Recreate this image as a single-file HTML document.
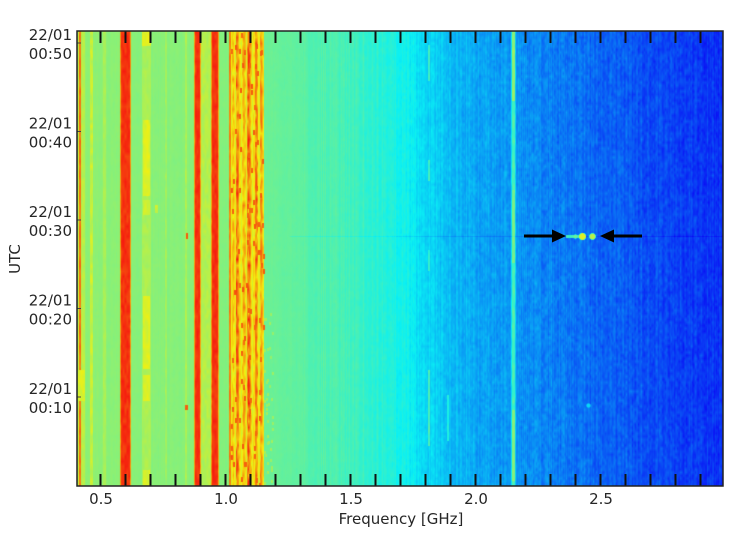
<!DOCTYPE html>
<html><head><meta charset="utf-8">
<style>
html,body{margin:0;padding:0;background:#fff;width:733px;height:550px;overflow:hidden}
#c{position:absolute;left:77px;top:31px;width:646px;height:455px}
svg{position:absolute;left:0;top:0}
text{font-family:"DejaVu Sans","Liberation Sans",sans-serif;font-size:15px;fill:#262626}
</style></head>
<body>
<canvas id="c" width="646" height="455"></canvas>
<svg width="733" height="550" xmlns="http://www.w3.org/2000/svg">
<g id="ticks" stroke="#111" stroke-width="2"></g>
<g stroke="#444" stroke-width="1">
<line x1="77" y1="43" x2="81" y2="43"/>
<line x1="77" y1="131.5" x2="81" y2="131.5"/>
<line x1="77" y1="220" x2="81" y2="220"/>
<line x1="77" y1="308.5" x2="81" y2="308.5"/>
<line x1="77" y1="397" x2="81" y2="397"/>
</g>
<rect x="77" y="31" width="646" height="455" fill="none" stroke="#222" stroke-width="1.5"/>
<line x1="524" y1="236" x2="555" y2="236" stroke="#000" stroke-width="3"/>
<polygon points="552,229.5 566,236 552,242.5" fill="#000"/>
<line x1="611" y1="236" x2="642" y2="236" stroke="#000" stroke-width="3"/>
<polygon points="614,229.5 600,236 614,242.5" fill="#000"/>
<g text-anchor="middle">
<text x="101" y="504">0.5</text>
<text x="226" y="504">1.0</text>
<text x="351" y="504">1.5</text>
<text x="476" y="504">2.0</text>
<text x="601" y="504">2.5</text>
<text x="401" y="524">Frequency [GHz]</text>
</g>
<g text-anchor="end">
<text x="72" y="40">22/01</text><text x="72" y="59">00:50</text>
<text x="72" y="128.5">22/01</text><text x="72" y="147.5">00:40</text>
<text x="72" y="217">22/01</text><text x="72" y="236">00:30</text>
<text x="72" y="305.5">22/01</text><text x="72" y="324.5">00:20</text>
<text x="72" y="394">22/01</text><text x="72" y="413">00:10</text>
</g>
<text x="20" y="259" text-anchor="middle" transform="rotate(-90 20 259)">UTC</text>
</svg>
<script>
(function(){
var tg=document.getElementById('ticks');var ns="http://www.w3.org/2000/svg";
for(var k=0;k<=24;k++){var x=100.5+25*k;
 var l=document.createElementNS(ns,'line');l.setAttribute('x1',x);l.setAttribute('x2',x);l.setAttribute('y1',486);l.setAttribute('y2',474);tg.appendChild(l);
 var m=document.createElementNS(ns,'line');m.setAttribute('x1',x);m.setAttribute('x2',x);m.setAttribute('y1',31);m.setAttribute('y2',43);tg.appendChild(m);}

var W=646,H=455,X0=77,Y0=31;
var s=2463534242;
function rnd(){s^=s<<13;s^=s>>>17;s^=s<<5;s>>>=0;return s/4294967296;}
function grid(cw,ch){var gw=Math.ceil(W/cw)+3,gh=Math.ceil(H/ch)+3;var g=new Float32Array(gw*gh);for(var i=0;i<g.length;i++)g[i]=rnd()*2-1;
 return function(x,y){var fx=x/cw,fy=y/ch;var ix=fx|0,iy=fy|0;var tx=fx-ix,ty=fy-iy;var a=g[iy*gw+ix],b=g[iy*gw+ix+1],c=g[(iy+1)*gw+ix],d=g[(iy+1)*gw+ix+1];return (a*(1-tx)+b*tx)*(1-ty)+(c*(1-tx)+d*tx)*ty;};}
var n1=grid(1.5,3),n2=grid(3,9),nA=grid(2,5),nB=grid(1.5,6);
var bp=[[77,0.515],[115,0.512],[230,0.505],[265,0.48],[300,0.465],[360,0.43],[400,0.39],[430,0.345],[460,0.31],[520,0.275],[600,0.225],[660,0.195],[723,0.165]];
function base(X){if(X<=bp[0][0])return bp[0][1];for(var i=1;i<bp.length;i++){if(X<=bp[i][0]){var t=(X-bp[i-1][0])/(bp[i][0]-bp[i-1][0]);return bp[i-1][1]+t*(bp[i][1]-bp[i-1][1]);}}return bp[bp.length-1][1];}
var col=new Float32Array(W);for(var x=0;x<W;x++)col[x]=(rnd()*2-1)*0.01;
var V=new Float32Array(W*H);
for(var y=0;y<H;y++)for(var x=0;x<W;x++){var X=x+X0;var a=0.008+0.03*Math.min(1,Math.max(0,(X-300)/250));
 var n=0.6*n1(x,y)+0.4*n2(x,y);V[y*W+x]=base(X)+a*n+col[x]*(X>300?1.5:0.5);}
function band(x0,x1,y0,y1,v,nz){for(var Y=y0;Y<=y1;Y++)for(var X=x0;X<=x1;X++){var x=X-X0,y=Y-Y0;if(x<0||x>=W||y<0||y>=H)continue;V[y*W+x]=v+nz*nA(x,y);}}
function add(x0,x1,y0,y1,d){for(var Y=y0;Y<=y1;Y++)for(var X=x0;X<=x1;X++){var x=X-X0,y=Y-Y0;if(x<0||x>=W||y<0||y>=H)continue;V[y*W+x]+=d;}}
function dot(cx,cy,r,v){for(var Y=Math.floor(cy-r-1);Y<=Math.ceil(cy+r+1);Y++)for(var X=Math.floor(cx-r-1);X<=Math.ceil(cx+r+1);X++){var d=Math.hypot(X-cx,Y-cy);var x=X-X0,y=Y-Y0;if(x<0||x>=W||y<0||y>=H)continue;var i=y*W+x;if(d<=r)V[i]=v;else if(d<=r+1){var t=r+1-d;V[i]=V[i]*(1-t)+v*t;}}}
band(78,78,31,486,0.58,0.02);
band(79,80,31,486,0.76,0.03);
band(81,84,31,486,0.56,0.02);
band(90,92,31,486,0.575,0.03);
band(103,105,31,486,0.545,0.015);
band(78,84,370,400,0.6,0.02);
band(120,120,31,486,0.72,0.03);band(121,129,31,486,0.83,0.025);band(130,130,31,486,0.72,0.03);
band(142,150,31,486,0.545,0.015);
band(142,150,31,45,0.6,0.02);band(143,149,120,195,0.6,0.02);band(143,149,200,214,0.585,0.02);
band(143,149,296,368,0.6,0.02);band(143,149,375,400,0.595,0.02);band(143,149,470,486,0.595,0.02);
band(155,157,205,212,0.58,0.02);
band(165,166,31,486,0.535,0.02);
band(185,186,31,486,0.545,0.02);
band(186,187,233,238,0.78,0.02);band(185,187,405,409,0.78,0.02);
band(194,194,31,486,0.72,0.03);band(195,199,31,486,0.83,0.025);band(200,200,31,486,0.7,0.03);
band(201,210,31,486,0.555,0.02);
band(211,211,31,486,0.72,0.03);band(212,217,31,486,0.83,0.025);band(218,218,31,486,0.7,0.03);
// noisy region
band(229,230,31,486,0.74,0.03);
var strong={236:0.79,237:0.8,238:0.76,243:0.73,244:0.72,247:0.77,248:0.81,249:0.8,250:0.75,255:0.76,256:0.78,257:0.73,260:0.73,261:0.75,262:0.7};
for(var X=231;X<=263;X++){var cs=strong[X]||(0.6+rnd()*0.09);var x=X-X0;
 for(var y=0;y<H;y++){var b=0.5+0.5*nB(x,y);V[y*W+x]=0.56+(cs-0.56)*(0.35+0.9*b);}}
for(var k=0;k<90;k++){var X=231+Math.floor(rnd()*33),Y=31+Math.floor(rnd()*455);band(X,X+1,Y,Y+4,0.78,0.02);}
for(var k=0;k<40;k++){var X=264+Math.floor(rnd()*9),Y=300+Math.floor(rnd()*186);band(X,X+1,Y,Y+2,0.53,0.01);}
band(428,429,45,80,0.43,0.02);band(428,429,160,180,0.43,0.02);band(428,429,250,270,0.42,0.02);band(428,429,370,445,0.44,0.02);
band(447,448,395,440,0.4,0.02);
band(511,511,31,486,0.36,0.02);band(515,515,31,486,0.34,0.02);
band(512,514,31,486,0.44,0.03);
band(512,514,31,100,0.52,0.02);band(512,514,190,262,0.49,0.02);band(512,514,410,480,0.5,0.02);
add(290,723,236,236,-0.03);
band(566,579,235,237,0.43,0.02);
dot(582,236,3,0.6);dot(592,236,2.7,0.56);dot(575,236,1.5,0.48);
dot(588,405,1.6,0.35);
function cl(v){return v<0?0:(v>1?1:v);}
var c=document.getElementById('c').getContext('2d');var img=c.createImageData(W,H);var d=img.data;
for(var i=0;i<W*H;i++){var v=cl(V[i]);var r=cl(1.5-Math.abs(4*v-3)),g=cl(1.5-Math.abs(4*v-2)),b=cl(1.5-Math.abs(4*v-1));
 d[4*i]=r*235+10;d[4*i+1]=g*232+8;d[4*i+2]=b*230+14;d[4*i+3]=255;}
c.putImageData(img,0,0);
})();
</script>
</body></html>
